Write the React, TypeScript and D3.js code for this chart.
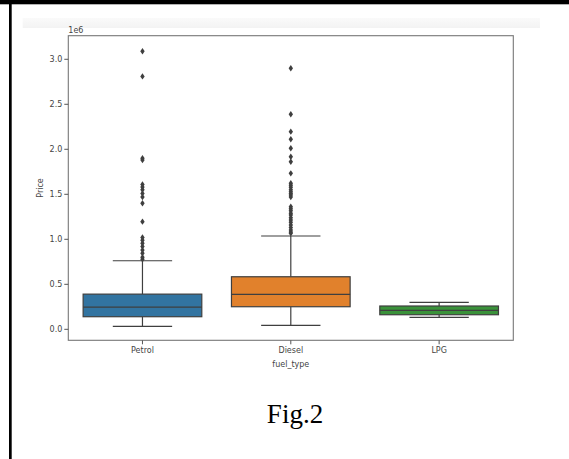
import React, { useEffect, useRef } from 'react';
import * as d3 from 'd3';

// box stats (price, units of 1e6 shown on axis)
const categories = ['Petrol', 'Diesel', 'LPG'];
const boxColors = ['#3274a1', '#e1812c', '#3a923a'];
const whiskerLow = [33000, 44000, 133000];
const q1 = [140000, 251000, 162000];
const median = [246000, 389000, 211000];
const q3 = [391000, 584000, 259000];
const whiskerHigh = [762000, 1037000, 300000];

const petrolOutliers = [
  3090000, 2810000, 1900000, 1880000, 1610000, 1580000, 1550000, 1510000, 1470000,
  1400000, 1196000, 1020000, 990000, 955000, 920000, 880000, 845000, 800000, 778000,
];
const dieselOutliers = [
  2900000, 2390000, 2196000, 2111000, 2011000, 1918000, 1862000, 1733000, 1622000,
  1600000, 1578000, 1550000, 1529000, 1510000, 1492000, 1470000, 1362000, 1340000,
  1318000, 1290000, 1270000, 1240000, 1214000, 1190000, 1159000, 1130000, 1103000,
  1080000, 1067000,
];
const lpgOutliers: number[] = [];
const outliers = [petrolOutliers, dieselOutliers, lpgOutliers];

const yTicks = [0, 500000, 1000000, 1500000, 2000000, 2500000, 3000000];

const Chart = () => {
  const svgRef = useRef<SVGSVGElement>(null);
  const svgWidth = 569;
  const svgHeight = 459;
  const plot = { left: 68.3, right: 513.3, top: 35.7, bottom: 340.3 };

  useEffect(() => {
    const svg = d3.select(svgRef.current);
    svg.selectAll('*').remove();

    // page frame bits
    svg.append('rect').attr('x', 0).attr('y', 0).attr('width', svgWidth).attr('height', 4.3).attr('fill', '#000');
    svg.append('rect').attr('x', 9).attr('y', 0).attr('width', 2.7).attr('height', svgHeight).attr('fill', '#000');

    const defs = svg.append('defs');
    const grad = defs.append('linearGradient').attr('id', 'band').attr('x1', 0).attr('y1', 0).attr('x2', 0).attr('y2', 1);
    grad.append('stop').attr('offset', '0%').attr('stop-color', '#fafafa');
    grad.append('stop').attr('offset', '100%').attr('stop-color', '#f3f3f3');
    svg.append('rect').attr('x', 22.7).attr('y', 18).attr('width', 540 - 22.7).attr('height', 10).attr('fill', 'url(#band)');

    const x = d3.scaleBand().domain(categories).range([plot.left, plot.right]).padding(0);
    const y = d3.scaleLinear().domain([-122000, 3262000]).range([plot.bottom, plot.top]);
    const bw = x.bandwidth();
    const boxW = bw * 0.8;
    const capW = boxW / 2;
    const lineColor = '#3f3f3f';
    const font = 'DejaVu Sans, sans-serif';

    const g = svg.append('g');

    categories.forEach((c, i) => {
      const cx = (x(c) as number) + bw / 2;
      // whiskers
      g.append('line').attr('x1', cx).attr('x2', cx).attr('y1', y(q3[i])).attr('y2', y(whiskerHigh[i]))
        .attr('stroke', lineColor).attr('stroke-width', 1.2);
      g.append('line').attr('x1', cx).attr('x2', cx).attr('y1', y(q1[i])).attr('y2', y(whiskerLow[i]))
        .attr('stroke', lineColor).attr('stroke-width', 1.2);
      [whiskerHigh[i], whiskerLow[i]].forEach(v => {
        g.append('line').attr('x1', cx - capW / 2).attr('x2', cx + capW / 2).attr('y1', y(v)).attr('y2', y(v))
          .attr('stroke', lineColor).attr('stroke-width', 1.2);
      });
      // box
      g.append('rect').attr('x', cx - boxW / 2).attr('y', y(q3[i])).attr('width', boxW)
        .attr('height', y(q1[i]) - y(q3[i])).attr('fill', boxColors[i])
        .attr('stroke', lineColor).attr('stroke-width', 1.2);
      g.append('line').attr('x1', cx - boxW / 2).attr('x2', cx + boxW / 2).attr('y1', y(median[i])).attr('y2', y(median[i]))
        .attr('stroke', lineColor).attr('stroke-width', 1.2);
      // fliers (thin diamonds)
      g.selectAll(null).data(outliers[i]).enter().append('path')
        .attr('d', d => `M${cx},${y(d) - 3.2}L${cx + 2.2},${y(d)}L${cx},${y(d) + 3.2}L${cx - 2.2},${y(d)}Z`)
        .attr('fill', lineColor);
    });

    // frame
    svg.append('rect').attr('x', plot.left).attr('y', plot.top).attr('width', plot.right - plot.left)
      .attr('height', plot.bottom - plot.top).attr('fill', 'none').attr('stroke', '#777').attr('stroke-width', 1.1);

    // y axis
    const yAxis = svg.append('g');
    yTicks.forEach(t => {
      yAxis.append('line').attr('x1', plot.left - 4).attr('x2', plot.left).attr('y1', y(t)).attr('y2', y(t))
        .attr('stroke', '#555').attr('stroke-width', 1);
      yAxis.append('text').attr('x', plot.left - 6).attr('y', y(t)).attr('dy', '0.35em')
        .attr('text-anchor', 'end').attr('font-family', font).attr('font-size', 8).attr('fill', '#444')
        .text((t / 1e6).toFixed(1));
    });
    svg.append('text').attr('x', plot.left).attr('y', plot.top - 3).attr('font-family', font)
      .attr('font-size', 8).attr('fill', '#444').text('1e6');
    svg.append('text').attr('transform', `translate(43,${(plot.top + plot.bottom) / 2}) rotate(-90)`)
      .attr('text-anchor', 'middle').attr('font-family', font).attr('font-size', 8).attr('fill', '#444').text('Price');

    // x axis
    categories.forEach(c => {
      const cx = (x(c) as number) + bw / 2;
      svg.append('line').attr('x1', cx).attr('x2', cx).attr('y1', plot.bottom).attr('y2', plot.bottom + 4)
        .attr('stroke', '#555').attr('stroke-width', 1);
      svg.append('text').attr('x', cx).attr('y', plot.bottom + 13).attr('text-anchor', 'middle')
        .attr('font-family', font).attr('font-size', 8).attr('fill', '#444').text(c);
    });
    svg.append('text').attr('x', (plot.left + plot.right) / 2).attr('y', plot.bottom + 27).attr('text-anchor', 'middle')
      .attr('font-family', font).attr('font-size', 8).attr('fill', '#444').text('fuel_type');

    // caption
    svg.append('text').attr('x', 295).attr('y', 422.7).attr('text-anchor', 'middle')
      .attr('font-family', 'Liberation Serif, Times New Roman, serif').attr('font-size', 27).attr('fill', '#000')
      .text('Fig.2');
  }, []);

  return <svg ref={svgRef} width={svgWidth} height={svgHeight} style={{ display: 'block', background: '#fff' }}></svg>;
};

export default function App() {
  return (
    <div style={{ position: 'absolute', left: 0, top: 0 }}>
      <Chart />
    </div>
  );
}
